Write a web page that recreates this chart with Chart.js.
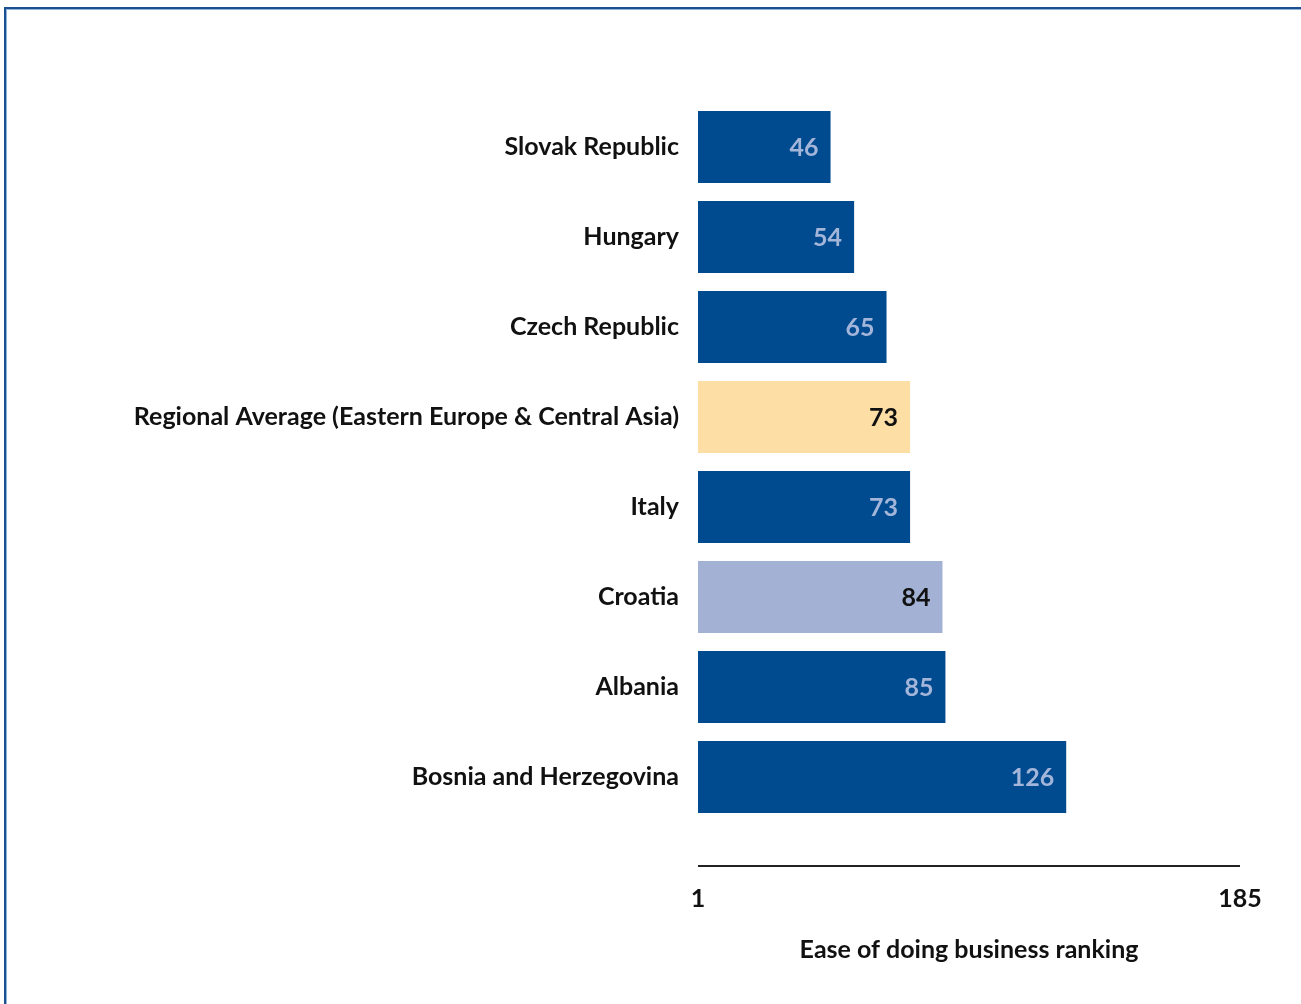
<!DOCTYPE html>
<html>
<head>
<meta charset="utf-8">
<script src="https://cdn.jsdelivr.net/npm/chart.js@4"></script>
<style>
    html, body { margin: 0; padding: 0; background: #fff; }
    #wrap { position: relative; width: 1301px; height: 1004px; }
    #frame {
        position: absolute; left: 4px; top: 7px; right: 0; bottom: 0;
        border-top: 2px solid #1b4f8f;
        border-left: 2px solid #1b4f8f;
        box-shadow: inset 1px 1px 0 #8fb4dc;
        pointer-events: none;
    }
    canvas { position: absolute; left: 0; top: 0; }
</style>
</head>
<body>
<div id="wrap">
    <canvas id="rankChart" width="1301" height="1004"></canvas>
    <div id="frame"></div>
</div>
<script>
// Ranking data
const countries = ['Slovak Republic', 'Hungary', 'Czech Republic',
    'Regional Average (Eastern Europe & Central Asia)', 'Italy', 'Croatia',
    'Albania', 'Bosnia and Herzegovina'];
const rankings = [46, 54, 65, 73, 73, 84, 85, 126];
const rankTicks = [1, 185];

const DARK = '#004a8f';
const barColors = [DARK, DARK, DARK, '#fddfa6', DARK, '#a3b1d4', DARK, DARK];
const valueColors = ['#a3b6da', '#a3b6da', '#a3b6da', '#111', '#a3b6da', '#111', '#a3b6da', '#a3b6da'];
const FONT = 'Lato, "Open Sans", sans-serif';
const FS = 25;

// value labels inside the bar ends + detached axis line
const barExtras = {
    id: 'barExtras',
    afterDatasetsDraw(chart) {
        const ctx = chart.ctx;
        const meta = chart.getDatasetMeta(0);
        ctx.save();
        ctx.font = 'bold ' + FS + 'px ' + FONT;
        ctx.textAlign = 'right';
        ctx.textBaseline = 'middle';
        meta.data.forEach((bar, i) => {
            ctx.fillStyle = valueColors[i];
            ctx.fillText(String(rankings[i]), bar.x - 12, bar.y + 1);
        });

        const x = chart.scales.x;
        const y = chart.chartArea.bottom + 44;
        ctx.strokeStyle = '#222';
        ctx.lineWidth = 2;
        ctx.beginPath();
        ctx.moveTo(x.getPixelForValue(rankTicks[0]), y);
        ctx.lineTo(x.getPixelForValue(rankTicks[1]), y);
        ctx.stroke();
        ctx.restore();
    }
};

new Chart(document.getElementById('rankChart'), {
    type: 'bar',
    data: {
        labels: countries,
        datasets: [{
            data: rankings,
            backgroundColor: barColors,
            barPercentage: 0.8,
            categoryPercentage: 1.0
        }]
    },
    options: {
        indexAxis: 'y',
        responsive: false,
        animation: false,
        layout: { padding: { top: 102, right: 61, bottom: 0, left: 0 } },
        plugins: {
            legend: { display: false },
            tooltip: { enabled: false }
        },
        scales: {
            x: {
                min: 1,
                max: 185,
                afterBuildTicks: scale => {
                    scale.ticks = rankTicks.map(v => ({ value: v }));
                },
                afterFit: scale => {
                    scale.height = 182;
                    scale.paddingLeft = 0;
                    scale.paddingRight = 0;
                },
                grid: { display: false, drawTicks: false },
                border: { display: false },
                ticks: {
                    padding: 62,
                    color: '#111',
                    font: { family: FONT, size: FS, weight: 'bold' }
                },
                title: {
                    display: true,
                    text: 'Ease of doing business ranking',
                    color: '#111',
                    padding: { top: 0, bottom: 39 },
                    font: { family: FONT, size: FS, weight: 'bold' }
                }
            },
            y: {
                afterFit: scale => { scale.width = 698; },
                grid: { display: false, drawTicks: false },
                border: { display: false },
                ticks: {
                    padding: 19,
                    color: '#111',
                    font: { family: FONT, size: FS, weight: 'bold' }
                }
            }
        }
    },
    plugins: [barExtras]
});
</script>
</body>
</html>
